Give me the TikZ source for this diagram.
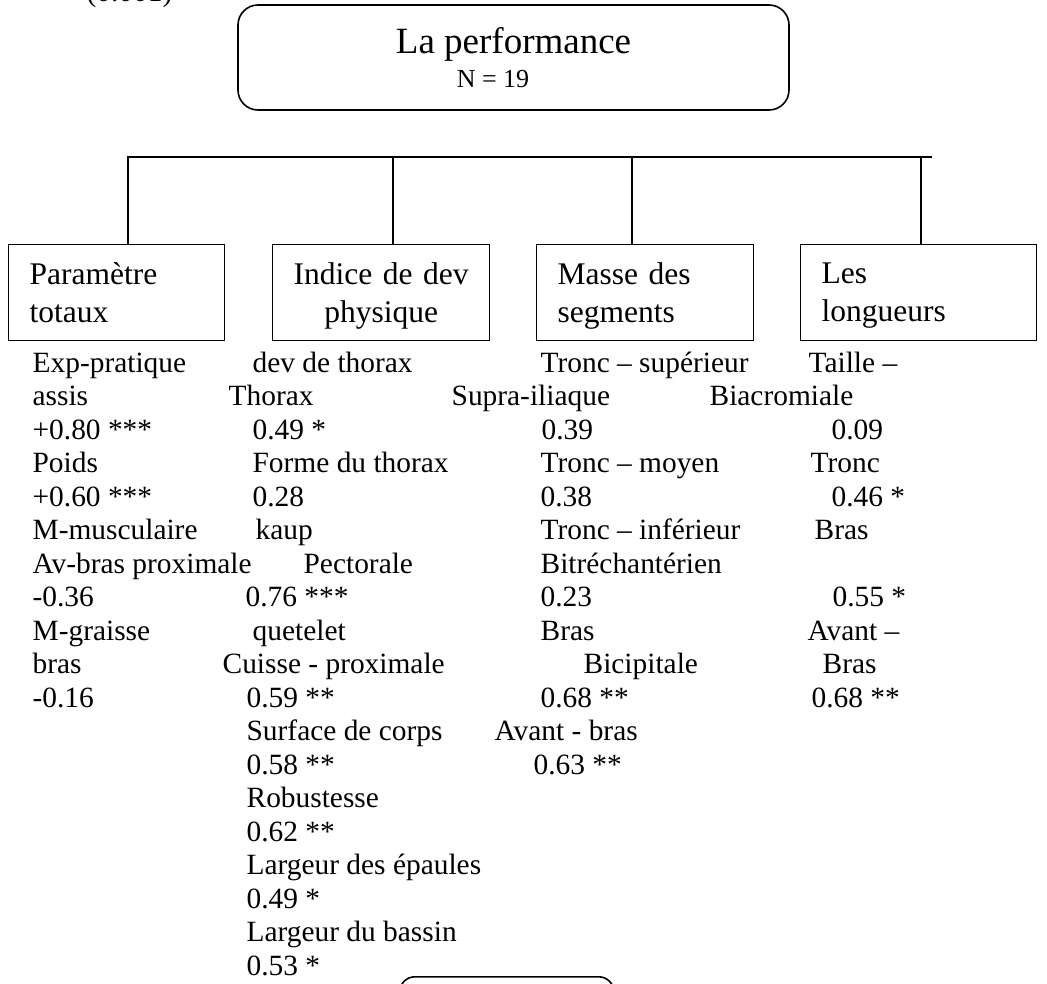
\documentclass[tikz,border=0pt]{standalone}
\usepackage{fontspec}
\setmainfont{Liberation Serif}
\usepackage{tikz}

\begin{document}
\begin{tikzpicture}[x=1pt, y=-1pt, line width=1.3pt,
        top_style/.style={draw=black, line width=1.6pt, rectangle, rounded corners=20pt, inner sep=0pt},
        title_style/.style={anchor=base, inner sep=0pt, font=\fontsize{37}{44}\selectfont},
        n_style/.style={anchor=base, inner sep=0pt, font=\fontsize{26}{31}\selectfont},
        cat_style/.style={draw=black, line width=1.3pt, rectangle, anchor=north west, inner xsep=21pt, inner ysep=0pt,
                minimum height=96pt, font=\fontsize{31.5}{38}\selectfont},
        item_style/.style={anchor=base west, inner sep=0pt, font=\fontsize{29.4}{33.5}\selectfont},
        bar_style/.style={draw=black, line width=1.3pt}]

        \useasboundingbox (0,0) rectangle (1047,983);

        % head
        \node [item_style](sig) at (86,1) {(0.001)};
        \node [top_style, minimum width=551pt, minimum height=105pt](top) at (513.5,57.5) {};
        \node [title_style](ttl) at (513.5,53) {La performance};
        \node [n_style](nn) at (493,87) {N = 19};

        % categories
        \node [cat_style, minimum width=216pt, text width=174pt, align=left](c1) at (8,244) {Paramètre\\\smash{totaux}};
        \node [cat_style, minimum width=217pt, text width=175pt, align=center](c2) at (272,244) {Indice de dev\\\smash{physique}};
        \node [cat_style, minimum width=217pt, text width=175pt, align=left](c3) at (536,244) {Masse des\\\smash{segments}};
        \node [cat_style, minimum width=236pt, text width=194pt, align=left](c4) at (800,244) {Les\\\smash{longueurs}};

        \coordinate (bl) at (127,157);
        \coordinate (br) at (932,157);
        \coordinate (j1) at (128,157);
        \coordinate (j2) at (393,157);
        \coordinate (j3) at (632,157);
        \coordinate (j4) at (921,157);
        \draw [bar_style] (bl) -- (br);
        \draw [bar_style] (j1) -- (j1 |- c1.north);
        \draw [bar_style] (j2) -- (j2 |- c2.north);
        \draw [bar_style] (j3) -- (j3 |- c3.north);
        \draw [bar_style] (j4) -- (j4 |- c4.north);

        % Parametre totaux
        \node [item_style](a0) at (32,372) {Exp-pratique};
        \node [item_style](a1) at (32,405.5) {assis};
        \node [item_style](a2) at (32,439) {+0.80 ***};
        \node [item_style](a3) at (32,472.5) {Poids};
        \node [item_style](a4) at (32,506) {+0.60 ***};
        \node [item_style](a5) at (32,539.5) {M-musculaire};
        \node [item_style](a6) at (32,573) {Av-bras proximale};
        \node [item_style](a7) at (32,606.5) {-0.36};
        \node [item_style](a8) at (32,640) {M-graisse};
        \node [item_style](a9) at (32,673.5) {bras};
        \node [item_style](a10) at (32,707) {-0.16};

        % Indice de dev physique
        \node [item_style](b0) at (252,372) {dev de thorax};
        \node [item_style](b1) at (228,405.5) {Thorax};
        \node [item_style](b2) at (252,439) {0.49 *};
        \node [item_style](b3) at (252,472.5) {Forme du thorax};
        \node [item_style](b4) at (252,506) {0.28};
        \node [item_style](b5) at (255,539.5) {kaup};
        \node [item_style](b6) at (303,573) {Pectorale};
        \node [item_style](b7) at (245,606.5) {0.76 ***};
        \node [item_style](b8) at (252,640) {quetelet};
        \node [item_style](b9) at (222,673.5) {Cuisse - proximale};
        \node [item_style](b10) at (246,707) {0.59 **};
        \node [item_style](b11) at (246,740.5) {Surface de corps};
        \node [item_style](b12) at (246,774) {0.58 **};
        \node [item_style](b13) at (246,807.5) {Robustesse};
        \node [item_style](b14) at (246,841) {0.62 **};
        \node [item_style](b15) at (246,874.5) {Largeur des épaules};
        \node [item_style](b16) at (246,908) {0.49 *};
        \node [item_style](b17) at (246,941.5) {Largeur du bassin};
        \node [item_style](b18) at (246,975) {0.53 *};

        % Masse des segments
        \node [item_style](s0) at (540,372) {Tronc – supérieur};
        \node [item_style](s1) at (451,405.5) {Supra-iliaque};
        \node [item_style](s2) at (541,439) {0.39};
        \node [item_style](s3) at (540,472.5) {Tronc – moyen};
        \node [item_style](s4) at (540,506) {0.38};
        \node [item_style](s5) at (540,539.5) {Tronc – inférieur};
        \node [item_style](s6) at (540,573) {Bitréchantérien};
        \node [item_style](s7) at (540,606.5) {0.23};
        \node [item_style](s8) at (540,640) {Bras};
        \node [item_style](s9) at (583,673.5) {Bicipitale};
        \node [item_style](s10) at (540,707) {0.68 **};
        \node [item_style](s11) at (494,740.5) {Avant - bras};
        \node [item_style](s12) at (533,774) {0.63 **};

        % Les longueurs
        \node [item_style](l0) at (808,372) {Taille –};
        \node [item_style](l1) at (709,405.5) {Biacromiale};
        \node [item_style](l2) at (831,439) {0.09};
        \node [item_style](l3) at (810,472.5) {Tronc};
        \node [item_style](l4) at (831,506) {0.46 *};
        \node [item_style](l5) at (814,539.5) {Bras};
        \node [item_style](l7) at (832,606.5) {0.55 *};
        \node [item_style](l8) at (807,640) {Avant –};
        \node [item_style](l9) at (822,673.5) {Bras};
        \node [item_style](l10) at (811,707) {0.68 **};

        % next box, cut by the page
        \node [top_style, rounded corners=15pt, anchor=north west, minimum width=214pt, minimum height=60pt](nxt) at (399,976) {};
        \end{tikzpicture}
\end{document}
